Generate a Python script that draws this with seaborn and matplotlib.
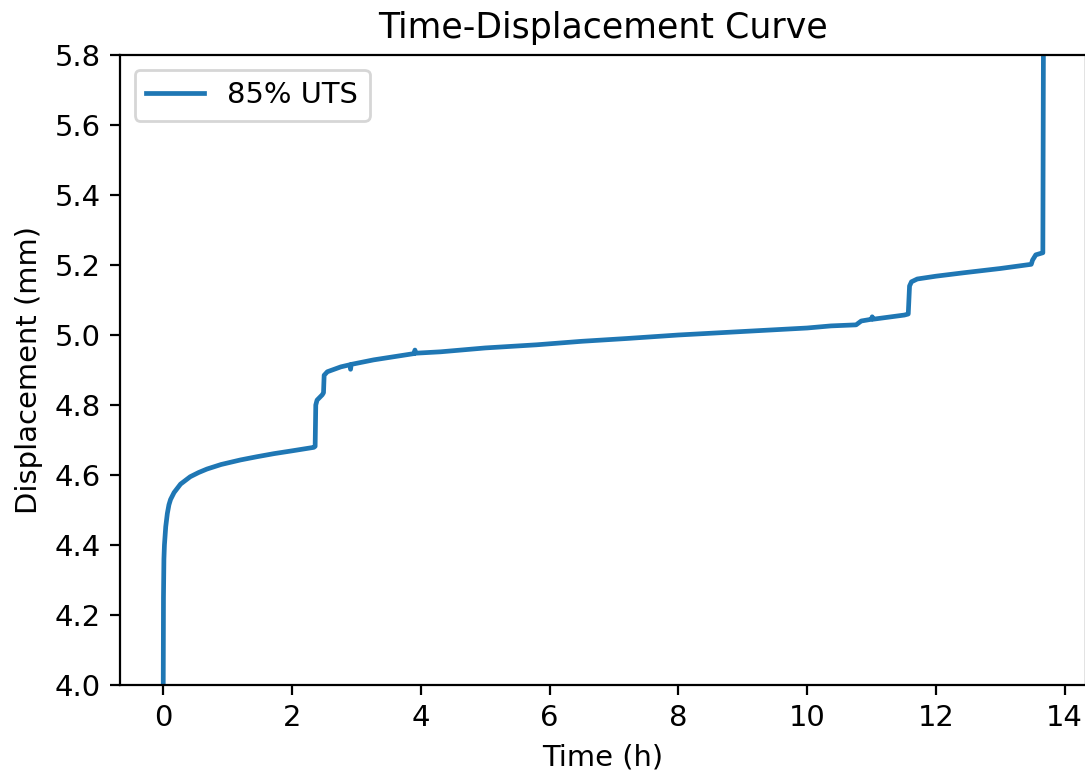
import matplotlib
matplotlib.use("Agg")
import matplotlib.pyplot as plt
import seaborn as sns
import pandas as pd

time_h = [0.0, 0.005, 0.012, 0.02, 0.04, 0.065, 0.09, 0.115, 0.17, 0.27, 0.42, 0.55, 0.68, 0.9,
          1.2, 1.45, 1.72, 2.0,
          2.34, 2.36, 2.37, 2.39, 2.47, 2.49, 2.50, 2.55, 2.76, 2.90, 2.91, 2.92,
          3.27, 3.90, 3.91, 3.92, 4.31, 5.0, 5.8, 6.5, 7.2, 8.0, 9.0, 10.0, 10.37,
          10.76, 10.84, 11.0, 11.01, 11.02, 11.51, 11.57, 11.59, 11.62, 11.71, 12.0,
          12.44, 13.0, 13.48, 13.50, 13.55, 13.66, 13.67]
displacement_mm = [3.9, 4.25, 4.36, 4.40, 4.452, 4.49, 4.515, 4.53, 4.550, 4.574, 4.595, 4.607, 4.617, 4.630,
                   4.643, 4.652, 4.661, 4.669,
                   4.679, 4.682, 4.80, 4.814, 4.829, 4.835, 4.885, 4.895, 4.909, 4.915, 4.902, 4.916,
                   4.929, 4.947, 4.957, 4.948, 4.952, 4.963, 4.972, 4.982, 4.990, 5.000, 5.010, 5.020, 5.026,
                   5.029, 5.040, 5.045, 5.052, 5.045, 5.057, 5.060, 5.140, 5.152, 5.160, 5.168,
                   5.178, 5.190, 5.202, 5.214, 5.229, 5.235, 5.9]
series_label = "85% UTS"

df = pd.DataFrame({"Time (h)": time_h, "Displacement (mm)": displacement_mm})

plt.rcParams["font.size"] = 10.45
fig = plt.figure(figsize=(1085 / 200, 776 / 200), dpi=200)
ax = fig.add_axes([120 / 1085, 91 / 776, 966 / 1085, 630 / 776])
sns.lineplot(data=df, x="Time (h)", y="Displacement (mm)", sort=False, estimator=None,
             ax=ax, color="#1f77b4", linewidth=1.7, label=series_label)
ax.set_xlim(-0.67, 14.33)
ax.set_ylim(4.0, 5.8)
ax.set_xticks([0, 2, 4, 6, 8, 10, 12, 14])
ax.set_yticks([4.0, 4.2, 4.4, 4.6, 4.8, 5.0, 5.2, 5.4, 5.6, 5.8])
ax.set_title("Time-Displacement Curve", fontsize=12.5)
ax.set_xlabel("Time (h)")
ax.set_ylabel("Displacement (mm)")
ax.legend(loc="upper left")
fig.savefig("out.png", dpi=200)
